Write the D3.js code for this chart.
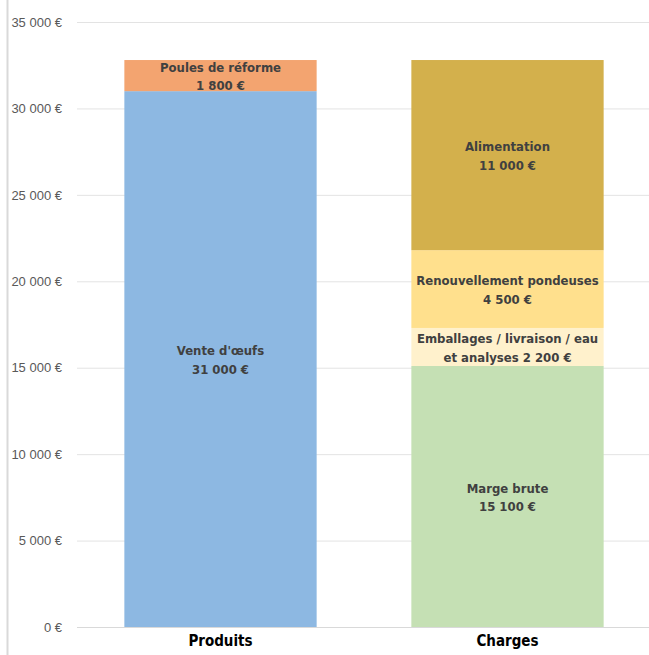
<!DOCTYPE html>
<html>
<head>
<meta charset="utf-8">
<script src="https://cdn.jsdelivr.net/npm/d3@7"></script>
<style>
  body { margin: 0; background: #fff; }
  svg { font-family: "DejaVu Sans Condensed", "Liberation Sans", sans-serif; }
</style>
</head>
<body>
<div id="chart"></div>
<script>
// categories on the x axis
const categories = ["Produits", "Charges"];

// stacked segments, bottom to top
const produitsNames = [["Vente d'œufs"], ["Poules de réforme"]];
const produitsValues = [31000, 1800];
const produitsColors = ["#8db8e2", "#f3a470"];

const chargesNames = [["Marge brute"], ["Emballages / livraison / eau", "et analyses"], ["Renouvellement pondeuses"], ["Alimentation"]];
const chargesValues = [15100, 2200, 4500, 11000];
const chargesColors = ["#c5e0b4", "#fff1cc", "#ffe08d", "#d3b04c"];

const yTicks = [0, 5000, 10000, 15000, 20000, 25000, 30000, 35000];

const width = 649, height = 655;

const fr = d3.formatLocale({ decimal: ",", thousands: "\u00a0", grouping: [3], currency: ["", " €"] });
const euro = v => fr.format(",.0f")(v) + " €";

const svg = d3.select("#chart")
    .append("svg")
    .attr("width", width)
    .attr("height", height);

// chart border on the left
svg.append("line")
    .attr("x1", 7.5).attr("x2", 7.5)
    .attr("y1", 0).attr("y2", height)
    .attr("stroke", "#d9d9d9")
    .attr("stroke-width", 2);

const yScale = d3.scaleLinear()
    .domain([0, 35000])
    .range([627, 22]);

const xScale = d3.scaleBand()
    .domain(categories)
    .range([77, 651])
    .paddingInner(0.33)
    .paddingOuter(0.165);

// gridlines + y labels
const yAxis = d3.axisLeft(yScale)
    .tickValues(yTicks)
    .tickSize(-(width - 77))
    .tickPadding(15)
    .tickFormat(euro);

svg.append("g")
    .attr("transform", "translate(77,0)")
    .call(yAxis)
    .call(g => g.select(".domain").remove())
    .call(g => g.selectAll(".tick line").attr("stroke", "#e3e3e3"))
    .call(g => g.selectAll(".tick text")
        .attr("fill", "#595959")
        .style("font-size", "13px"));

// build stacks
const stacks = [
    { cat: "Produits", names: produitsNames, values: produitsValues, colors: produitsColors },
    { cat: "Charges", names: chargesNames, values: chargesValues, colors: chargesColors }
];

const segments = [];
stacks.forEach(s => {
    let base = 0;
    s.values.forEach((v, i) => {
        segments.push({ cat: s.cat, names: s.names[i], value: v, y0: base, y1: base + v, color: s.colors[i] });
        base += v;
    });
});

svg.selectAll("rect.seg")
    .data(segments)
    .enter()
    .append("rect")
    .attr("class", "seg")
    .attr("x", d => xScale(d.cat))
    .attr("width", xScale.bandwidth())
    .attr("y", d => yScale(d.y1))
    .attr("height", d => yScale(d.y0) - yScale(d.y1))
    .attr("fill", d => d.color);

// bottom axis line
svg.append("line")
    .attr("x1", 77).attr("x2", width)
    .attr("y1", yScale(0) + 0.5).attr("y2", yScale(0) + 0.5)
    .attr("stroke", "#d9d9d9");

// data labels
const lineH = 18.5;
const labels = svg.selectAll("text.lbl")
    .data(segments)
    .enter()
    .append("text")
    .attr("class", "lbl")
    .attr("text-anchor", "middle")
    .attr("fill", "#404040")
    .style("font-size", "13px")
    .style("font-weight", "bold");

labels.each(function(d) {
    let lines;
    if (d.names.length > 1) {
        lines = d.names.slice();
        lines[lines.length - 1] += " " + euro(d.value);
    } else {
        lines = [d.names[0], euro(d.value)];
    }
    const cx = xScale(d.cat) + xScale.bandwidth() / 2;
    const cy = (yScale(d.y0) + yScale(d.y1)) / 2 + 1;
    const top = cy - (lines.length - 1) * lineH / 2;
    d3.select(this).selectAll("tspan")
        .data(lines)
        .enter()
        .append("tspan")
        .attr("x", cx)
        .attr("y", (l, i) => top + i * lineH)
        .attr("dy", "0.35em")
        .text(l => l);
});

// category labels
svg.selectAll("text.cat")
    .data(categories)
    .enter()
    .append("text")
    .attr("class", "cat")
    .attr("x", d => xScale(d) + xScale.bandwidth() / 2)
    .attr("y", 646)
    .attr("text-anchor", "middle")
    .attr("fill", "#000")
    .style("font-size", "15px")
    .style("font-weight", "bold")
    .text(d => d);
</script>
</body>
</html>
